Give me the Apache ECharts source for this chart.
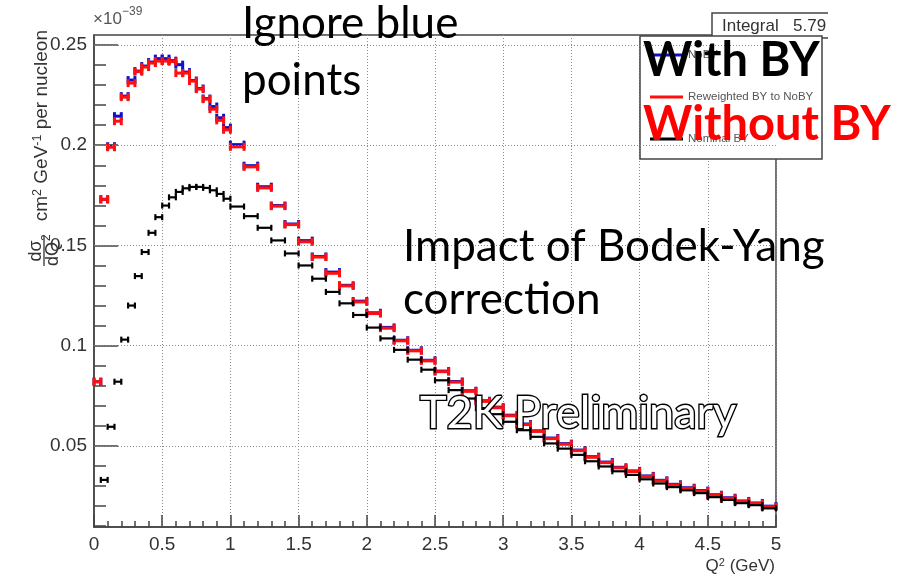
<!DOCTYPE html>
<html>
<head>
<meta charset="utf-8">
<script src="https://cdn.jsdelivr.net/npm/echarts@6/dist/echarts.min.js"></script>
<style>
  html, body { margin: 0; padding: 0; background: #fff; }
  #chart { width: 910px; height: 575px; }
</style>
</head>
<body>
<div id="chart"></div>
<script>
// Q^2 bin edges (GeV^2): 0.05-wide bins below 1, 0.1-wide bins above
const binEdges = [0, 0.05, 0.1, 0.15, 0.2, 0.25, 0.3, 0.35, 0.4, 0.45, 0.5, 0.55, 0.6, 0.65, 0.7, 0.75, 0.8, 0.85, 0.9, 0.95,
  1.0, 1.1, 1.2, 1.3, 1.4, 1.5, 1.6, 1.7, 1.8, 1.9, 2.0, 2.1, 2.2, 2.3, 2.4, 2.5, 2.6, 2.7, 2.8, 2.9,
  3.0, 3.1, 3.2, 3.3, 3.4, 3.5, 3.6, 3.7, 3.8, 3.9, 4.0, 4.1, 4.2, 4.3, 4.4, 4.5, 4.6, 4.7, 4.8, 4.9, 5.0];

// dsigma/dQ^2 in units of 1e-39 cm^2 GeV^-1 per nucleon, one value per bin
const noBY = [0.082, 0.173, 0.1995, 0.2145, 0.2245, 0.2325, 0.237, 0.2395, 0.2415, 0.2432,
  0.2432, 0.2422, 0.2402, 0.2365, 0.2323, 0.2283, 0.2233, 0.2193, 0.2137, 0.2088,
  0.2003, 0.1898, 0.1793, 0.1699, 0.1607, 0.1524, 0.1445, 0.1367, 0.1301, 0.1222,
  0.1164, 0.1091, 0.1027, 0.0977, 0.0927, 0.0873, 0.0821, 0.0775, 0.0725, 0.0693,
  0.0653, 0.0609, 0.0575, 0.0539, 0.0511, 0.0479, 0.0446, 0.0419, 0.0393, 0.0375,
  0.0350, 0.0328, 0.0308, 0.0291, 0.0277, 0.0256, 0.0241, 0.0225, 0.0215, 0.0199];

const reweighted = [0.082, 0.173, 0.199, 0.212, 0.224, 0.231, 0.2367, 0.239, 0.241, 0.242,
  0.242, 0.2417, 0.236, 0.236, 0.232, 0.228, 0.223, 0.218, 0.2124, 0.2077,
  0.1992, 0.1892, 0.1787, 0.1696, 0.1604, 0.1518, 0.1442, 0.1361, 0.1298, 0.1218,
  0.1160, 0.1087, 0.1024, 0.0974, 0.0924, 0.0870, 0.0818, 0.0772, 0.0722, 0.0690,
  0.0650, 0.0606, 0.0572, 0.0536, 0.0508, 0.0476, 0.0443, 0.0416, 0.0390, 0.0372,
  0.0347, 0.0325, 0.0305, 0.0288, 0.0274, 0.0253, 0.0238, 0.0222, 0.0212, 0.0196];

const nominal = [null, 0.033, 0.0595, 0.082, 0.103, 0.120, 0.1347, 0.1467, 0.1563, 0.1641,
  0.1699, 0.1740, 0.1767, 0.1785, 0.1792, 0.1792, 0.1787, 0.1775, 0.1757, 0.1733,
  0.1694, 0.1646, 0.1588, 0.1525, 0.1460, 0.1400, 0.1334, 0.1268, 0.1211, 0.1153,
  0.1090, 0.1036, 0.0979, 0.0930, 0.0880, 0.0827, 0.0778, 0.0736, 0.0688, 0.0658,
  0.0620, 0.0578, 0.0545, 0.0512, 0.0486, 0.0455, 0.0423, 0.0397, 0.0373, 0.0355,
  0.0333, 0.0312, 0.0294, 0.0278, 0.0264, 0.0244, 0.0230, 0.0214, 0.0204, 0.0188];

const seriesNames = ['NoBY', 'Reweighted BY to NoBY', 'Nominal BY'];
const yMajorTicks = [0.05, 0.1, 0.15, 0.2, 0.25];
const yMinorTicks = [0.01, 0.02, 0.03, 0.04, 0.06, 0.07, 0.08, 0.09, 0.11, 0.12, 0.13, 0.14,
  0.16, 0.17, 0.18, 0.19, 0.21, 0.22, 0.23, 0.24];

// [lowEdge, highEdge, value] per bin, skipping empty bins
function histData(values) {
  const out = [];
  values.forEach((v, i) => {
    if (v != null) out.push([binEdges[i], binEdges[i + 1], v]);
  });
  return out;
}

// horizontal bin-width bar with end caps, placed through the axes
function binBar(lineWidth, capHeight) {
  return function (params, api) {
    const y = api.value(2);
    const a = api.coord([api.value(0), y]);
    const b = api.coord([api.value(1), y]);
    const color = api.visual('color');
    const st = { stroke: color, lineWidth: lineWidth };
    const h = capHeight / 2;
    return {
      type: 'group',
      children: [
        { type: 'line', shape: { x1: a[0], y1: a[1], x2: b[0], y2: b[1] }, style: st },
        { type: 'line', shape: { x1: a[0], y1: a[1] - h, x2: a[0], y2: a[1] + h }, style: st },
        { type: 'line', shape: { x1: b[0], y1: b[1] - h, x2: b[0], y2: b[1] + h }, style: st }
      ]
    };
  };
}

const axisFont = 'Liberation Sans, Arial, sans-serif';
const noteFont = 'Lato, sans-serif';
const ink = '#333';

const chart = echarts.init(document.getElementById('chart'), null, { renderer: 'canvas' });

chart.setOption({
  animation: false,
  backgroundColor: '#fff',
  grid: {
    left: 94, right: 134, top: 35, bottom: 48,
    show: true, borderColor: '#444', borderWidth: 1.5, backgroundColor: 'transparent'
  },
  xAxis: {
    type: 'value', min: 0, max: 5, interval: 0.5,
    axisLine: { show: true, lineStyle: { color: '#444', width: 1.5 } },
    axisTick: { show: true, inside: true, length: 12, lineStyle: { color: '#444', width: 1.5 } },
    minorTick: { show: true, splitNumber: 5, length: 6, lineStyle: { color: '#444', width: 1.5 } },
    axisLabel: { color: ink, fontSize: 19, fontFamily: axisFont, margin: 8,
      formatter: v => String(+v.toFixed(1)) },
    splitLine: { show: true, lineStyle: { type: [1, 2], color: '#8a8a8a', width: 1 } }
  },
  yAxis: [
    {
      type: 'value', min: 0.0095, max: 0.255, position: 'left',
      axisLine: { show: true, lineStyle: { color: '#444', width: 1.5 } },
      axisTick: { show: true, inside: true, length: 24, customValues: yMajorTicks,
        lineStyle: { color: '#444', width: 1.5 } },
      axisLabel: { color: ink, fontSize: 19, fontFamily: axisFont, margin: 7,
        customValues: yMajorTicks, formatter: v => String(+v.toFixed(2)) },
      splitLine: { show: false }
    },
    {
      type: 'value', min: 0.0095, max: 0.255, position: 'left',
      axisLine: { show: false },
      axisTick: { show: true, inside: true, length: 12, customValues: yMinorTicks,
        lineStyle: { color: '#444', width: 1.5 } },
      axisLabel: { show: false },
      splitLine: { show: false }
    }
  ],
  legend: {
    orient: 'vertical', left: 645, top: 42,
    data: seriesNames,
    icon: 'rect', itemWidth: 33, itemHeight: 3, itemGap: 26,
    textStyle: { color: '#555', fontSize: 11.5, fontFamily: axisFont, lineHeight: 16 },
    selectedMode: false, z: 5
  },
  series: [
    {
      name: seriesNames[0], type: 'custom', z: 2,
      itemStyle: { color: '#1010c8' },
      renderItem: binBar(3, 8),
      encode: { x: [0, 1], y: 2 },
      data: histData(noBY),
      markLine: {
        silent: true, symbol: 'none', label: { show: false },
        lineStyle: { type: [1, 2], color: '#8a8a8a', width: 1 },
        data: yMajorTicks.map(v => ({ yAxis: v }))
      }
    },
    {
      name: seriesNames[1], type: 'custom', z: 3,
      itemStyle: { color: '#ff1010' },
      renderItem: binBar(3, 8),
      encode: { x: [0, 1], y: 2 },
      data: histData(reweighted)
    },
    {
      name: seriesNames[2], type: 'custom', z: 4,
      itemStyle: { color: '#000' },
      renderItem: binBar(2.2, 6),
      encode: { x: [0, 1], y: 2 },
      data: histData(nominal)
    }
  ],
  graphic: [
    // exponent of the y scale
    { type: 'text', x: 93, y: 19, style: { text: '×10', fill: '#555', font: '17px ' + axisFont, verticalAlign: 'middle' } },
    { type: 'text', x: 122, y: 12, style: { text: '−39', fill: '#555', font: '12px ' + axisFont, verticalAlign: 'middle' } },
    // y axis title (rotated)
    {
      type: 'text', x: 42, y: 30, rotation: Math.PI / 2,
      style: {
        text: '{n|cm}{s|2}{n| GeV}{s|-1}{n| per nucleon}',
        align: 'right', verticalAlign: 'middle', fill: ink,
        rich: {
          n: { fontSize: 19, fontFamily: axisFont, lineHeight: 21, fill: ink },
          s: { fontSize: 12.5, fontFamily: axisFont, lineHeight: 21, verticalAlign: 'top', fill: ink }
        }
      }
    },
    {
      type: 'group', x: 44, y: 251, rotation: Math.PI / 2,
      children: [
        { type: 'text', x: 0, y: -8, style: { text: 'dσ', align: 'center', verticalAlign: 'middle', fill: ink, font: '18px ' + axisFont } },
        { type: 'line', shape: { x1: -15, y1: 0, x2: 15, y2: 0 }, style: { stroke: ink, lineWidth: 1.3 } },
        { type: 'text', x: -3, y: 9, style: { text: 'dQ', align: 'center', verticalAlign: 'middle', fill: ink, font: '18px ' + axisFont } },
        { type: 'text', x: 10, y: 3, style: { text: '2', align: 'left', verticalAlign: 'middle', fill: ink, font: '12px ' + axisFont } }
      ]
    },
    // x axis title
    {
      type: 'text', x: 775, y: 566,
      style: { text: '{n|Q}{s|2}{n| (GeV)}', align: 'right', verticalAlign: 'middle', fill: ink,
        rich: {
          n: { fontSize: 17, fontFamily: axisFont, lineHeight: 18, fill: ink },
          s: { fontSize: 11, fontFamily: axisFont, lineHeight: 18, verticalAlign: 'top', fill: ink }
        } }
    },
    // statistics box (open on its right side)
    { type: 'rect', z: 1, shape: { x: 712, y: 13, width: 116, height: 25 }, style: { fill: '#fff' } },
    { type: 'polyline', z: 1, shape: { points: [[828, 13], [712, 13], [712, 38], [828, 38]] }, style: { fill: null, stroke: '#444', lineWidth: 1.5 } },
    { type: 'text', z: 1, x: 722, y: 26, style: { text: 'Integral', fill: ink, font: '17px ' + axisFont, verticalAlign: 'middle' } },
    { type: 'text', z: 1, x: 793, y: 26, style: { text: '5.79', fill: ink, font: '17px ' + axisFont, verticalAlign: 'middle' } },
    // legend frame
    { type: 'rect', z: 3, shape: { x: 640, y: 36, width: 182, height: 123 }, style: { fill: '#fff', stroke: '#444', lineWidth: 1.5 } },
    // annotations
    { type: 'text', z: 20, x: 242, y: 24, style: { text: 'Ignore blue', fill: '#000', font: '44px ' + noteFont, verticalAlign: 'middle' } },
    { type: 'text', z: 20, x: 242, y: 81, style: { text: 'points', fill: '#000', font: '44px ' + noteFont, verticalAlign: 'middle' } },
    { type: 'text', z: 20, x: 403, y: 247, style: { text: 'Impact of Bodek-Yang', fill: '#000', font: '44px ' + noteFont, verticalAlign: 'middle' } },
    { type: 'text', z: 20, x: 403, y: 300, style: { text: 'correction', fill: '#000', font: '44px ' + noteFont, verticalAlign: 'middle' } },
    { type: 'text', z: 20, x: 643, y: 61, style: { text: 'With BY', fill: '#000', font: 'bold 47px ' + noteFont, verticalAlign: 'middle' } },
    { type: 'text', z: 20, x: 643, y: 125, style: { text: 'Without BY', fill: '#ff0000', font: 'bold 47px ' + noteFont, verticalAlign: 'middle' } },
    { type: 'text', z: 20, x: 420, y: 413, style: { text: 'T2K Preliminary', fill: '#fff', stroke: '#000', lineWidth: 2.8, font: '45px ' + noteFont, verticalAlign: 'middle' } }
  ]
});
</script>
</body>
</html>
